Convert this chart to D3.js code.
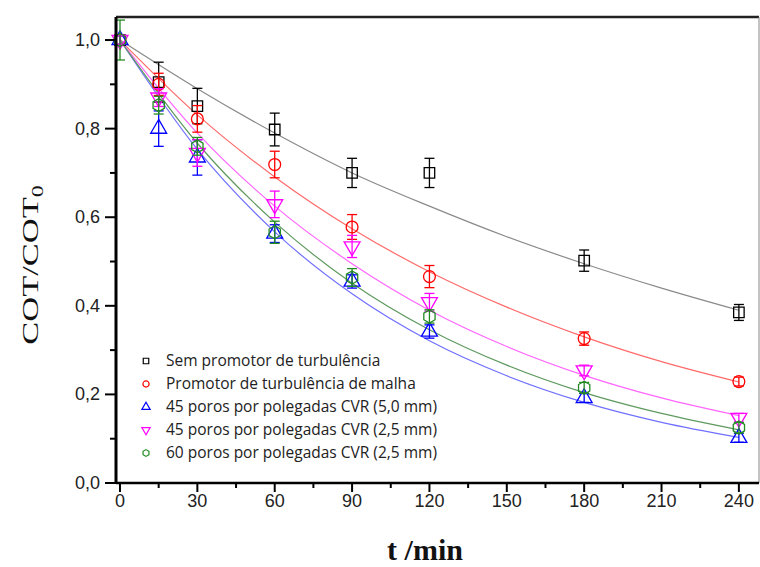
<!DOCTYPE html>
<html>
<head>
<meta charset="utf-8">
<script src="https://cdn.jsdelivr.net/npm/d3@7"></script>
<style>
  body { margin: 0; background: #fff; }
  .tick-label { font-family: "Liberation Sans", Arial, sans-serif; font-size: 18px; fill: #222; }
  .legend-text { font-family: "Open Sans", sans-serif; font-size: 15.5px; fill: #222; }
</style>
</head>
<body>
<svg id="chart" width="760" height="567"></svg>
<script>
// sampling times (min)
var times = [0, 15, 30, 60, 90, 120, 180, 240];

// measured COT/COT0 and error bars per condition
var semVals   = [1.0, 0.905, 0.851, 0.798, 0.70, 0.70, 0.502, 0.385];
var semErr    = [0.01, 0.045, 0.04, 0.037, 0.033, 0.033, 0.024, 0.018];
var malhaVals = [1.0, 0.90, 0.822, 0.719, 0.578, 0.466, 0.326, 0.229];
var malhaErr  = [0.01, 0.025, 0.03, 0.03, 0.028, 0.025, 0.015, 0.01];
var cvr45aVals = [1.0, 0.80, 0.735, 0.563, 0.455, 0.342, 0.192, 0.102];
var cvr45aErr  = [0.01, 0.04, 0.04, 0.02, 0.015, 0.015, 0.01, 0.01];
var cvr45bVals = [1.0, 0.87, 0.745, 0.629, 0.534, 0.408, 0.254, 0.147];
var cvr45bErr  = [0.01, 0.02, 0.03, 0.03, 0.025, 0.02, 0.012, 0.01];
var cvr60Vals  = [1.0, 0.853, 0.76, 0.566, 0.464, 0.376, 0.215, 0.125];
var cvr60Err   = [0.045, 0.02, 0.02, 0.025, 0.02, 0.015, 0.012, 0.012];

// fitted curves
var fitTimes = [0, 30, 60, 90, 120, 150, 180, 210, 240];
var semFit    = [1.0, 0.89, 0.79, 0.70, 0.625, 0.556, 0.495, 0.44, 0.39];
var malhaFit  = [1.0, 0.831, 0.691, 0.574, 0.477, 0.397, 0.330, 0.274, 0.228];
var cvr45aFit = [1.0, 0.753, 0.567, 0.427, 0.321, 0.242, 0.182, 0.137, 0.103];
var cvr45bFit = [1.0, 0.79, 0.625, 0.495, 0.39, 0.308, 0.243, 0.192, 0.152];
var cvr60Fit  = [1.0, 0.767, 0.589, 0.451, 0.346, 0.266, 0.204, 0.157, 0.12];

var labels = [
  'Sem promotor de turbulência',
  'Promotor de turbulência de malha',
  '45 poros por polegadas CVR (5,0 mm)',
  '45 poros por polegadas CVR (2,5 mm)',
  '60 poros por polegadas CVR (2,5 mm)'
];

var xTicks = [0, 30, 60, 90, 120, 150, 180, 210, 240];
var yTicks = [0, 0.2, 0.4, 0.6, 0.8, 1.0];

// hexagon marker for the last series
var hexagon = {
  draw: function (ctx, size) {
    var r = Math.sqrt(size / 2.6);
    for (var i = 0; i < 6; i++) {
      var a = Math.PI / 6 + i * Math.PI / 3;
      var px = r * Math.cos(a), py = r * Math.sin(a);
      if (i === 0) ctx.moveTo(px, py); else ctx.lineTo(px, py);
    }
    ctx.closePath();
  }
};

var series = [
  { vals: semVals,    err: semErr,    fit: semFit,    color: '#000000', line: '#8a8a8a', sym: d3.symbolSquare,   rot: 0 },
  { vals: malhaVals,  err: malhaErr,  fit: malhaFit,  color: '#ff0000', line: '#ff6a6a', sym: d3.symbolCircle,   rot: 0 },
  { vals: cvr45aVals, err: cvr45aErr, fit: cvr45aFit, color: '#0000ff', line: '#7070ff', sym: d3.symbolTriangle, rot: 0 },
  { vals: cvr45bVals, err: cvr45bErr, fit: cvr45bFit, color: '#ff00ff', line: '#ff66ff', sym: d3.symbolTriangle, rot: 180 },
  { vals: cvr60Vals,  err: cvr60Err,  fit: cvr60Fit,  color: '#228b22', line: '#5f9a5f', sym: hexagon,           rot: 0 }
];
series.forEach(function (s, i) { s.label = labels[i]; });

var svg = d3.select('#chart');
var mLeft = 116, mRight = 759, mTop = 17, mBottom = 483;

var x = d3.scaleLinear().domain([-1.55, 247.8]).range([mLeft, mRight]);
var y = d3.scaleLinear().domain([0, 1.052]).range([mBottom, mTop]);

// frame: top thick, right thin
svg.append('line').attr('x1', mLeft).attr('x2', mRight).attr('y1', mTop).attr('y2', mTop)
  .attr('stroke', '#222').attr('stroke-width', 2.5);
svg.append('line').attr('x1', mRight).attr('x2', mRight).attr('y1', mTop).attr('y2', mBottom)
  .attr('stroke', '#888').attr('stroke-width', 1);

// fitted curves
var line = d3.line()
  .x(function (d) { return x(d[0]); })
  .y(function (d) { return y(d[1]); })
  .curve(d3.curveMonotoneX);

var gFit = svg.append('g');
series.forEach(function (s) {
  gFit.append('path')
    .datum(fitTimes.map(function (t, i) { return [t, s.fit[i]]; }))
    .attr('d', line)
    .attr('fill', 'none')
    .attr('stroke', s.line)
    .attr('stroke-width', 1.2);
});

// error bars + markers
var gPts = svg.append('g');
series.forEach(function (s) {
  var g = gPts.append('g');
  var pts = times.map(function (t, i) { return { t: t, v: s.vals[i], e: s.err[i] }; });
  var eb = g.selectAll('g.eb').data(pts).join('g').attr('class', 'eb')
    .attr('stroke', s.color).attr('stroke-width', 1.3);
  eb.append('line')
    .attr('x1', function (d) { return x(d.t); }).attr('x2', function (d) { return x(d.t); })
    .attr('y1', function (d) { return y(d.v + d.e); }).attr('y2', function (d) { return y(d.v - d.e); });
  [1, -1].forEach(function (sgn) {
    eb.append('line')
      .attr('x1', function (d) { return x(d.t) - 5; }).attr('x2', function (d) { return x(d.t) + 5; })
      .attr('y1', function (d) { return y(d.v + sgn * d.e); }).attr('y2', function (d) { return y(d.v + sgn * d.e); });
  });
  g.selectAll('path.mk').data(pts).join('path').attr('class', 'mk')
    .attr('d', d3.symbol().type(s.sym).size(110))
    .attr('transform', function (d) { return 'translate(' + x(d.t) + ',' + y(d.v) + ') rotate(' + s.rot + ')'; })
    .attr('fill', 'none')
    .attr('stroke', s.color)
    .attr('stroke-width', 1.3);
});

// axes
var xAxis = svg.append('g').attr('transform', 'translate(0,' + mBottom + ')');
xAxis.append('line').attr('x1', mLeft).attr('x2', mRight).attr('stroke', '#000').attr('stroke-width', 2.5);
xAxis.selectAll('line.minor').data(d3.range(15, 241, 30)).join('line').attr('class', 'minor')
  .attr('x1', x).attr('x2', x).attr('y1', 0).attr('y2', 5).attr('stroke', '#000').attr('stroke-width', 2);
xAxis.selectAll('line.major').data(xTicks).join('line').attr('class', 'major')
  .attr('x1', x).attr('x2', x).attr('y1', 0).attr('y2', 9).attr('stroke', '#000').attr('stroke-width', 2);
xAxis.selectAll('text').data(xTicks).join('text').attr('class', 'tick-label')
  .attr('x', x).attr('y', 24).attr('text-anchor', 'middle')
  .text(function (d) { return d; });

var fmt = function (d) { return d3.format('.1f')(d).replace('.', ','); };
var yAxis = svg.append('g').attr('transform', 'translate(' + mLeft + ',0)');
yAxis.append('line').attr('y1', mTop).attr('y2', mBottom + 1).attr('stroke', '#000').attr('stroke-width', 3);
yAxis.selectAll('line.minor').data([0.1, 0.3, 0.5, 0.7, 0.9]).join('line').attr('class', 'minor')
  .attr('y1', y).attr('y2', y).attr('x1', 0).attr('x2', -6).attr('stroke', '#000').attr('stroke-width', 2);
yAxis.selectAll('line.major').data(yTicks).join('line').attr('class', 'major')
  .attr('y1', y).attr('y2', y).attr('x1', 0).attr('x2', -11).attr('stroke', '#000').attr('stroke-width', 2);
yAxis.selectAll('text').data(yTicks).join('text').attr('class', 'tick-label')
  .attr('x', -16).attr('y', function (d) { return y(d) + 6; }).attr('text-anchor', 'end')
  .text(fmt);

// axis titles
svg.append('text')
  .attr('x', 425).attr('y', 560).attr('text-anchor', 'middle')
  .style('font-family', '"Liberation Serif", "Times New Roman", serif')
  .style('font-size', '30px').style('font-weight', 'bold').attr('fill', '#111')
  .text('t /min');

// y title is drawn stretched along its length, as in the source
var yt = svg.append('text')
  .attr('transform', 'translate(38,265) rotate(-90) scale(1.5,1)')
  .attr('text-anchor', 'middle')
  .style('font-family', '"Liberation Serif", "Times New Roman", serif')
  .style('font-size', '23px').attr('fill', '#111');
yt.append('tspan').text('COT/COT');
yt.append('tspan').attr('dy', 5).style('font-size', '16px').text('0');

// legend
var leg = svg.append('g');
series.forEach(function (s, i) {
  var ly = 361 + i * 23;
  leg.append('path')
    .attr('d', d3.symbol().type(s.sym).size(30))
    .attr('transform', 'translate(146,' + ly + ') rotate(' + s.rot + ')')
    .attr('fill', 'none').attr('stroke', s.color).attr('stroke-width', 1.2);
  leg.append('text').attr('class', 'legend-text')
    .attr('x', 166).attr('y', ly + 5)
    .text(s.label);
});
</script>
</body>
</html>
